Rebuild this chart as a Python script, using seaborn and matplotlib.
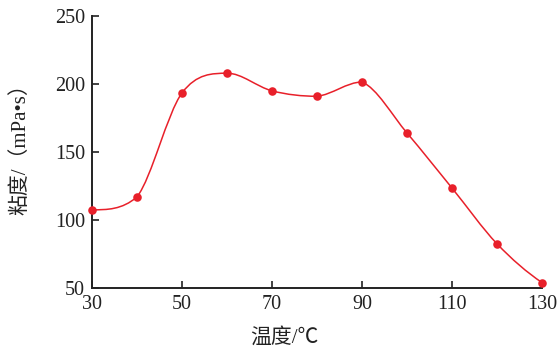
import numpy as np
import pandas as pd
import matplotlib
matplotlib.use("Agg")
import matplotlib.pyplot as plt
from matplotlib.path import Path
from matplotlib.patches import PathPatch
import seaborn as sns

temperature = [30, 40, 50, 60, 70, 80, 90, 100, 110, 120, 130]
viscosity = [107.5, 117, 193.5, 208, 195, 191, 201.5, 164, 123.5, 82.5, 54]
x_ticks = [30, 50, 70, 90, 110, 130]
y_ticks = [50, 100, 150, 200, 250]

sns.set_theme(style="ticks")
plt.rcParams["font.family"] = ["Liberation Serif", "Noto Sans CJK SC", "DejaVu Sans"]

RED = "#E8202A"
INK = "#222222"

fig = plt.figure(figsize=(5.59, 3.49), dpi=100)
ax = fig.add_axes([0.1646, 0.1748, 0.8050, 0.7792])

df = pd.DataFrame({"T": temperature, "V": viscosity})


def smooth_path(xs, ys):
    """Cubic Bezier segments with central-difference tangents,
    limited per segment so no segment overshoots its end points."""
    x = np.asarray(xs, float)
    y = np.asarray(ys, float)
    h = np.diff(x)
    d = np.diff(y) / h
    m = np.zeros_like(y)
    m[1:-1] = (y[2:] - y[:-2]) / (x[2:] - x[:-2])
    s0 = ((2 * h[0] + h[1]) * d[0] - h[0] * d[1]) / (h[0] + h[1])
    m[0] = s0 if np.sign(s0) == np.sign(d[0]) else 0.0
    s1 = ((2 * h[-1] + h[-2]) * d[-1] - h[-1] * d[-2]) / (h[-1] + h[-2])
    m[-1] = s1 if np.sign(s1) == np.sign(d[-1]) else 0.0

    verts = [(x[0], y[0])]
    codes = [Path.MOVETO]
    for k in range(len(x) - 1):
        a = max(m[k] / d[k], 0.0)
        b = max(m[k + 1] / d[k], 0.0)
        r = np.hypot(a, b)
        if r > 3:
            a, b = a * 3 / r, b * 3 / r
        ma, mb = a * d[k], b * d[k]
        verts += [(x[k] + h[k] / 3, y[k] + ma * h[k] / 3),
                  (x[k + 1] - h[k] / 3, y[k + 1] - mb * h[k] / 3),
                  (x[k + 1], y[k + 1])]
        codes += [Path.CURVE4] * 3
    return Path(verts, codes)


ax.add_patch(PathPatch(smooth_path(df["T"], df["V"]), fill=False,
                       edgecolor=RED, linewidth=1.1, zorder=2))
sns.scatterplot(data=df, x="T", y="V", ax=ax, color=RED, s=38,
                edgecolor=RED, linewidth=0, zorder=3, clip_on=False)

ax.set_xlim(30, 130)
ax.set_ylim(50, 250)
ax.set_xticks(x_ticks)
ax.set_yticks(y_ticks)
ax.tick_params(direction="in", length=5, width=1.2, labelsize=14.5,
               colors=INK, pad=5)
for side in ["top", "right"]:
    ax.spines[side].set_visible(False)
for side in ["left", "bottom"]:
    ax.spines[side].set_linewidth(1.4)
    ax.spines[side].set_color(INK)

ax.set_xlabel("温度/℃", fontsize=15, color=INK)
ax.set_ylabel("粘度/（mPa•s）", fontsize=15, color=INK)
ax.xaxis.set_label_coords(0.427, -0.148)
ax.yaxis.set_label_coords(-0.138, 0.53)

fig.savefig("out.png", dpi=100)
